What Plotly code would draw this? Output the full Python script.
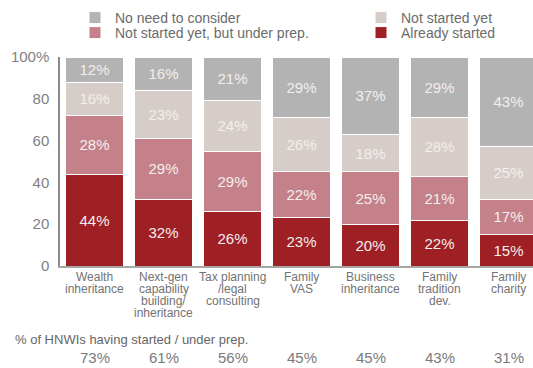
import plotly.graph_objects as go

# Survey categories (multi-line label text split on "|")
categories = [
    "Wealth|inheritance",
    "Next-gen|capability|building/|inheritance",
    "Tax planning|/legal|consulting",
    "Family|VAS",
    "Business|inheritance",
    "Family|tradition|dev.",
    "Family|charity",
]

# Share of HNWIs per status (%)
already_started = [44, 32, 26, 23, 20, 22, 15]
under_prep = [28, 29, 29, 22, 25, 21, 17]
not_started = [16, 23, 24, 26, 18, 28, 25]
no_need = [12, 16, 21, 29, 37, 29, 43]

# Started / under preparation totals
started_or_prep = [73, 61, 56, 45, 45, 43, 31]

y_ticks = [0, 20, 40, 60, 80, 100]
y_ticktext = ["0", "20", "40", "60", "80", "100%"]

FONT = "Arial, Liberation Sans, sans-serif"
W, H = 533, 368
L, R, T, B = 60, 0, 57, 102
plot_w = W - L - R
cat_px = 69
x_max = -0.5 + plot_w / cat_px

# (name, values, colour, legend id, legend left px, legend row centre px)
series = [
    ("Already started", already_started, "#9e1f24", "legend4", 361, 33),
    ("Not started yet, but under prep.", under_prep, "#c5818a", "legend3", 75, 33),
    ("Not started yet", not_started, "#d6cdc8", "legend2", 361, 18),
    ("No need to consider", no_need, "#b3b3b3", "legend", 75, 18),
]

fig = go.Figure()
legend_layout = {}
for name, vals, color, leg, lx, ly in series:
    fig.add_trace(go.Bar(
        x=categories, y=vals, name=name, legend=leg,
        marker=dict(color=color, line=dict(color="white", width=1)),
        texttemplate="%{y}%", textposition="inside", insidetextanchor="middle",
        textangle=0,
        textfont=dict(family=FONT, size=15, color="#f3eeee"),
        hoverinfo="skip",
    ))
    legend_layout[leg] = dict(
        xref="container", yref="container", x=lx / W, y=1 - ly / H,
        xanchor="left", yanchor="middle",
        font=dict(family=FONT, size=14, color="#6b6b6b"),
        bgcolor="rgba(0,0,0,0)", itemclick=False, itemdoubleclick=False,
    )

# Category labels, one annotation per line for tight spacing
for cat in categories:
    for i, line in enumerate(cat.split("|")):
        fig.add_annotation(
            x=cat, y=0, xref="x", yref="y", text=line, showarrow=False,
            xanchor="center", yanchor="middle", yshift=-11 - 12 * i,
            font=dict(family=FONT, size=12, color="#737373"),
        )

fig.add_annotation(
    x=(12.5 - L) / plot_w, y=0, xref="paper", yref="y",
    text="% of HNWIs having started / under prep.", showarrow=False,
    xanchor="left", yanchor="middle", yshift=-73,
    font=dict(family=FONT, size=13, color="#666666"),
)
for cat, v in zip(categories, started_or_prep):
    fig.add_annotation(
        x=cat, y=0, xref="x", yref="y", text=f"{v}%", showarrow=False,
        xanchor="center", yanchor="middle", yshift=-91,
        font=dict(family=FONT, size=15, color="#7a7a7a"),
    )

fig.update_layout(
    width=W, height=H,
    margin=dict(l=L, r=R, t=T, b=B, pad=0, autoexpand=False),
    paper_bgcolor="white", plot_bgcolor="white",
    barmode="stack", bargap=11 / 69,
    showlegend=True,
    xaxis=dict(
        range=[-0.5, x_max], showticklabels=False, ticks="",
        showline=True, linecolor="#a6a6a6", linewidth=1.5,
        showgrid=False, zeroline=False, fixedrange=True,
    ),
    yaxis=dict(
        range=[0, 100], tickvals=y_ticks, ticktext=y_ticktext,
        showline=True, linecolor="#8c8c8c", linewidth=1.5,
        ticks="", ticklabelstandoff=6, showgrid=False, zeroline=False,
        tickfont=dict(family=FONT, size=15, color="#7f7f7f"),
        fixedrange=True,
    ),
    **legend_layout,
)

fig.write_html("out.html", config={"displayModeBar": False})
